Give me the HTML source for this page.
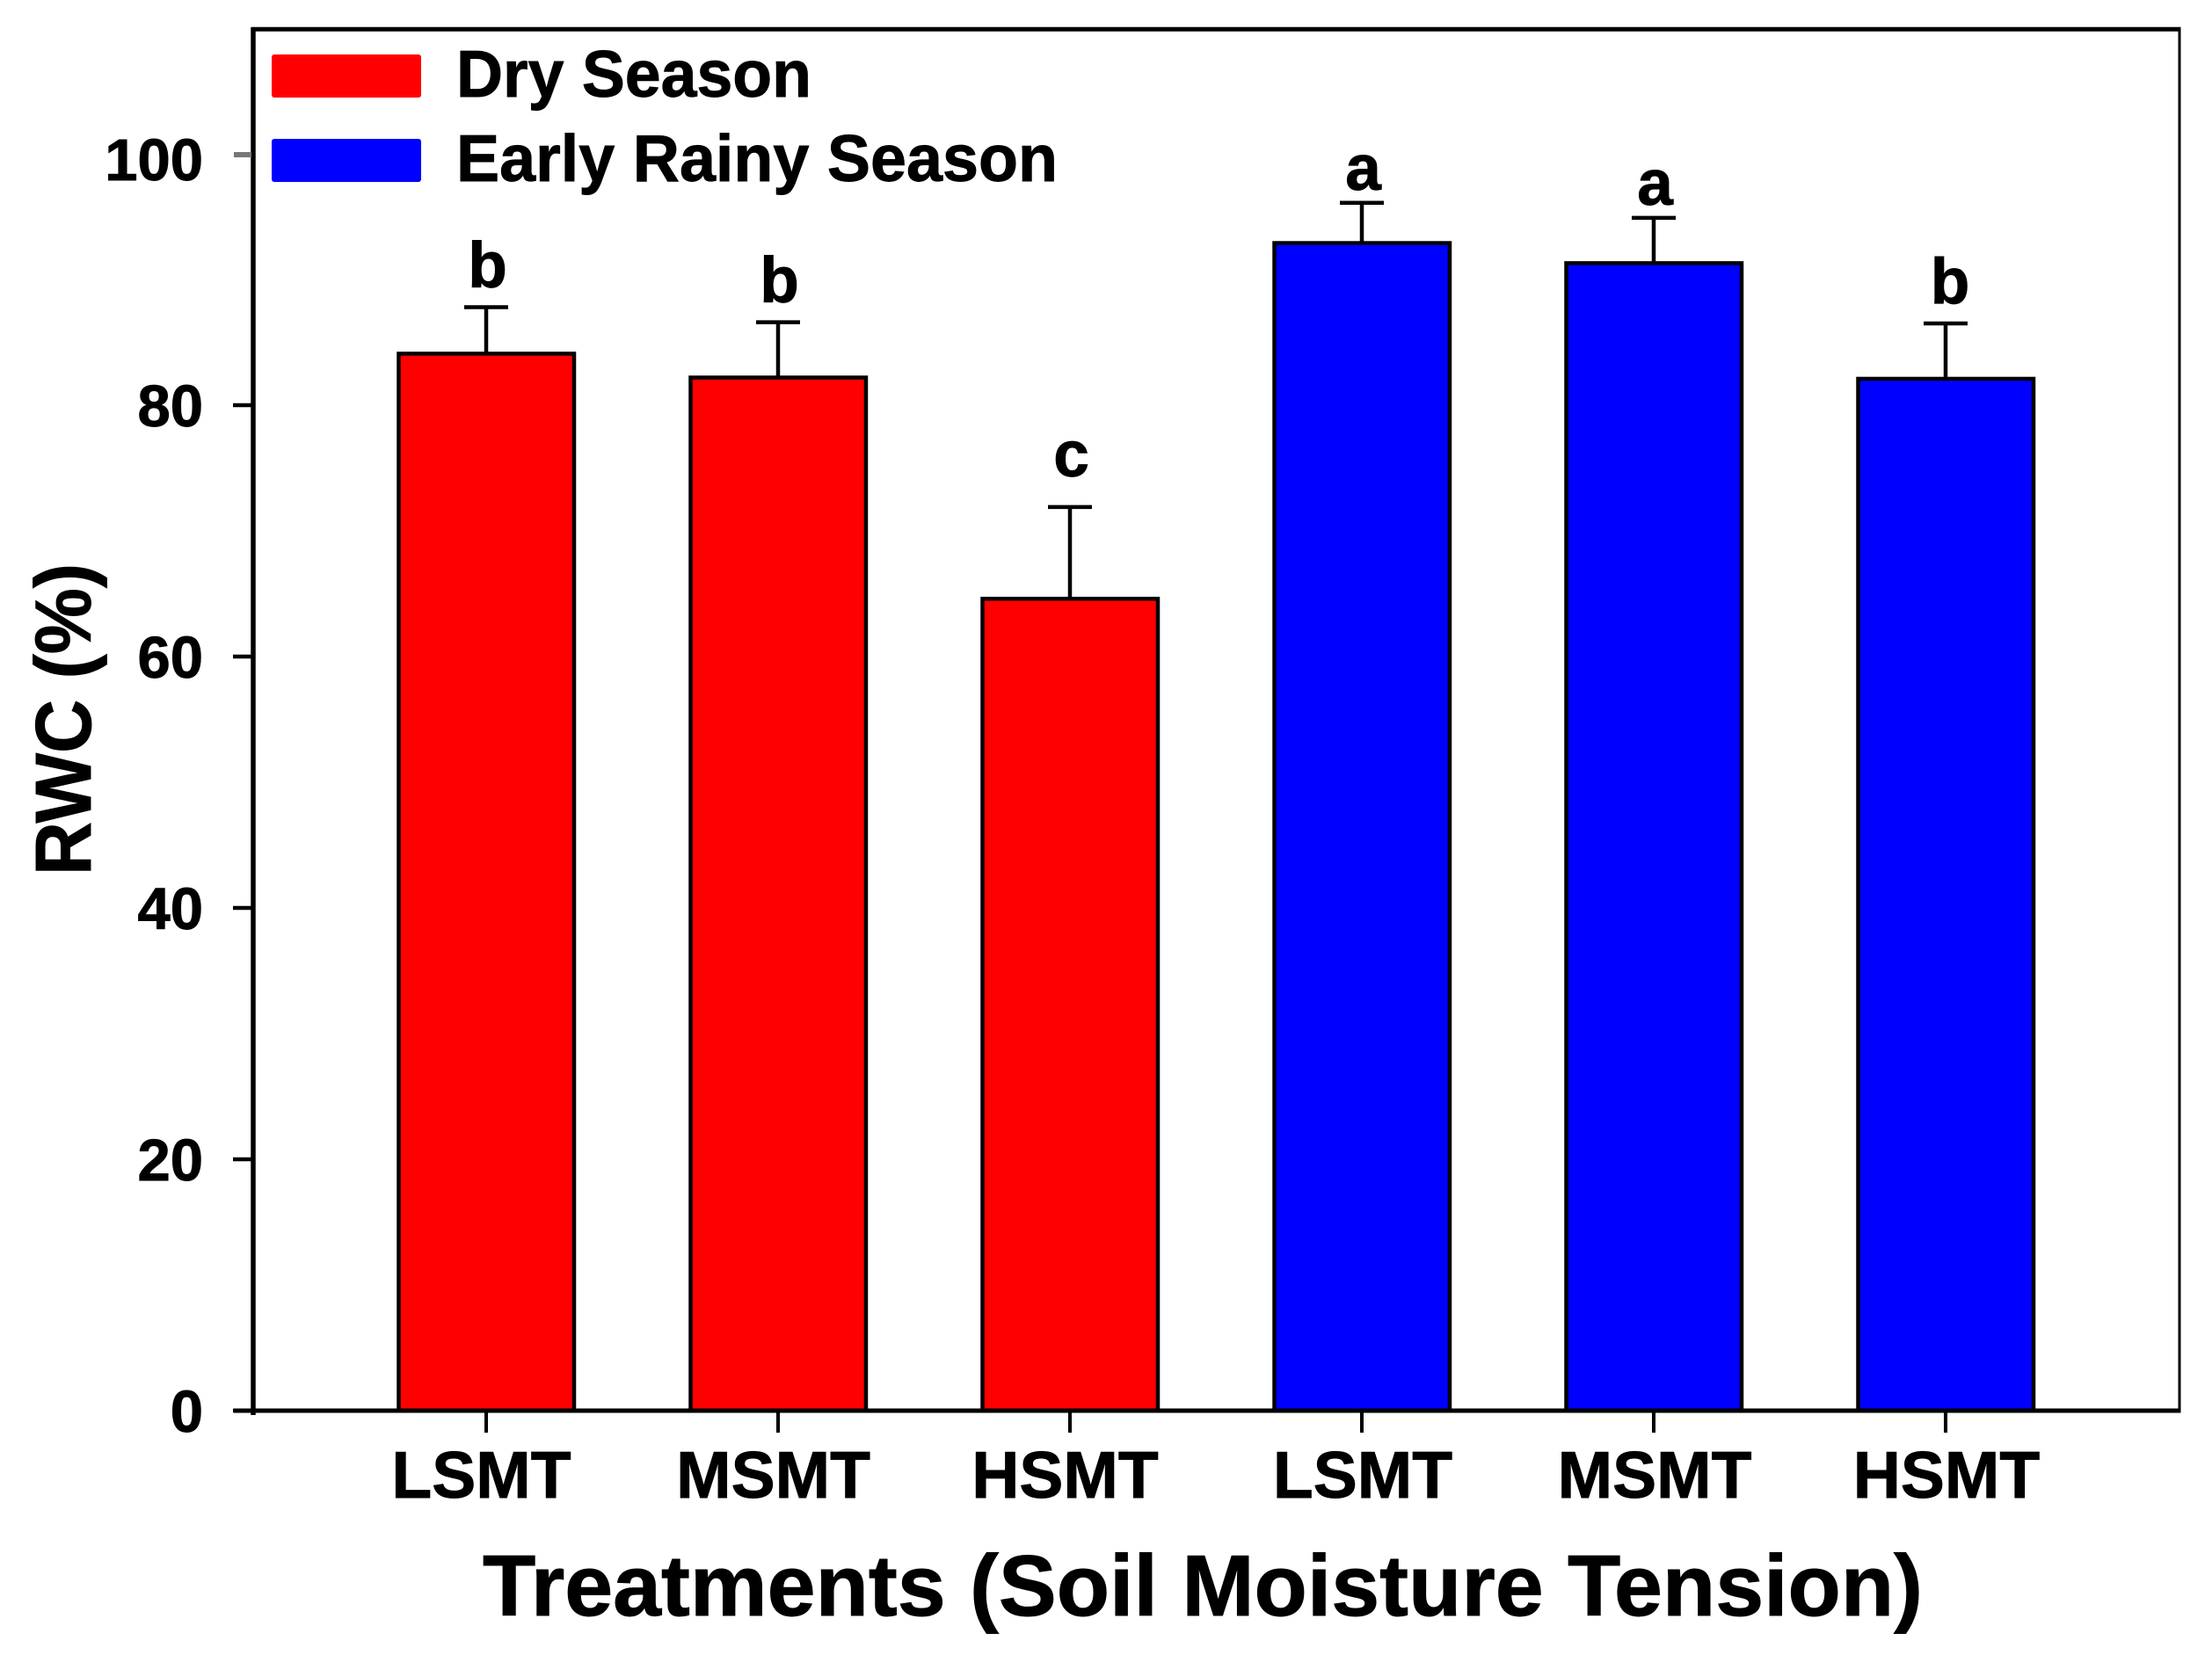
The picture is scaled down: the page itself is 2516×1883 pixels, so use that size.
<!DOCTYPE html>
<html lang="en">
<head>
<meta charset="utf-8">
<title>RWC by Soil Moisture Tension</title>
<style>
  html, body { margin: 0; padding: 0; background: #fff; }
  body { width: 2516px; height: 1883px; overflow: hidden; }
  svg { display: block; }
  text { font-family: "Liberation Sans", Arial, sans-serif; font-weight: bold; fill: #000; stroke: #000; stroke-width: 0.9px; }
</style>
</head>
<body>
<svg id="chart" xmlns="http://www.w3.org/2000/svg" width="2516" height="1883" viewBox="0 0 2516 1883">
  <rect x="0" y="0" width="2516" height="1883" fill="#fff"/>
  <g id="marks"></g>
  <g id="frame">
    <line x1="286" y1="33.3" x2="2480.5" y2="33.3" stroke="#000" stroke-width="5"/>
    <line x1="2479" y1="33" x2="2479" y2="1607" stroke="#000" stroke-width="3"/>
    <line x1="288" y1="31" x2="288" y2="1610" stroke="#000" stroke-width="5.5"/>
    <line x1="266" y1="1605" x2="2480.5" y2="1605" stroke="#000" stroke-width="5"/>
  </g>
  <g id="axes"></g>
  <g>
    <rect x="309" y="62" width="170" height="49" rx="3" fill="#ff0000"/>
    <text x="519" y="110" font-size="75" textLength="404" lengthAdjust="spacingAndGlyphs">Dry Season</text>
    <rect x="309" y="158" width="170" height="49" rx="3" fill="#0000ff"/>
    <text x="519" y="206" font-size="75" textLength="684" lengthAdjust="spacingAndGlyphs">Early Rainy Season</text>
  </g>
  <text x="549" y="1838" font-size="98" textLength="1638" lengthAdjust="spacingAndGlyphs">Treatments (Soil Moisture Tension)</text>
  <text transform="translate(103 996) rotate(-90)" x="0" y="0" font-size="90" textLength="355" lengthAdjust="spacingAndGlyphs">RWC (%)</text>
</svg>
<script>
var categories = ["LSMT", "MSMT", "HSMT", "LSMT", "MSMT", "HSMT"];
var seasons = ["dry", "dry", "dry", "rainy", "rainy", "rainy"];
var rwcValues = [84.1, 82.2, 64.6, 92.9, 91.3, 82.1];
var rwcErrors = [3.7, 4.4, 7.3, 3.2, 3.6, 4.4];
var significance = ["b", "b", "c", "a", "a", "b"];
var yTickValues = [0, 20, 40, 60, 80, 100];

var SVG_NS = "http://www.w3.org/2000/svg";
var marks = document.getElementById("marks");
var axes = document.getElementById("axes");

function xScale(i) { return 553 + 332 * i; }
function yScale(v) { return 1605 - 14.3 * v; }
function seasonColor(s) { return s === "dry" ? "#ff0000" : "#0000ff"; }
function letterGap(l) { return l === "a" ? 15 : (l === "c" ? 35 : 23); }

function make(tag, parent) {
  var el = document.createElementNS(SVG_NS, tag);
  parent.appendChild(el);
  return el;
}
function setLine(el, x1, y1, x2, y2, color, width) {
  el.setAttribute("x1", x1);
  el.setAttribute("y1", y1);
  el.setAttribute("x2", x2);
  el.setAttribute("y2", y2);
  el.setAttribute("stroke", color);
  el.setAttribute("stroke-width", width);
}

categories.forEach(function (cat, i) {
  var cx = xScale(i);
  var top = yScale(rwcValues[i]);
  var capY = yScale(rwcValues[i] + rwcErrors[i]);

  var stem = make("line", marks);
  
  
  setLine(stem, cx, top, cx, capY, "#000", 4.5);

  var cap = make("line", marks);
  
  
  setLine(cap, cx - 25, capY, cx + 25, capY, "#000", 4.5);

  var bar = make("rect", marks);
  
  
  bar.setAttribute("x", cx - 99.5);
  bar.setAttribute("y", top);
  bar.setAttribute("width", 199.5);
  bar.setAttribute("height", yScale(0) - top);
  bar.setAttribute("fill", seasonColor(seasons[i]));
  bar.setAttribute("stroke", "#000");
  bar.setAttribute("stroke-width", 4.5);

  var letter = make("text", marks);
  
  
  letter.setAttribute("x", cx + (seasons[i] === "rainy" && significance[i] === "b" ? 5 : 1.5));
  letter.setAttribute("y", capY - letterGap(significance[i]));
  letter.setAttribute("font-size", 73);
  letter.setAttribute("text-anchor", "middle");
  letter.textContent = significance[i];

  var tick = make("line", axes);
  
  
  setLine(tick, cx, 1605, cx, 1630, "#000", 4);

  var label = make("text", axes);
  
  
  label.setAttribute("x", cx + (seasons[i] === "dry" ? -5.5 : 1));
  label.setAttribute("y", 1704);
  label.setAttribute("font-size", 75);
  label.setAttribute("text-anchor", "middle");
  label.textContent = cat;
});

yTickValues.forEach(function (t) {
  var y = yScale(t);
  var isTop = t === 100;

  var tick = make("line", axes);
  
  
  setLine(tick, isTop ? 266 : 265, y + (isTop ? 1 : 0), 286, y + (isTop ? 1 : 0), isTop ? "#777" : "#000", isTop ? 6 : 4.5);

  var label = make("text", axes);
  
  
  label.setAttribute("x", 231);
  label.setAttribute("y", y + (isTop ? 30 : 24));
  label.setAttribute("font-size", 67);
  label.setAttribute("text-anchor", "end");
  label.textContent = String(t);
});
</script>
</body>
</html>
